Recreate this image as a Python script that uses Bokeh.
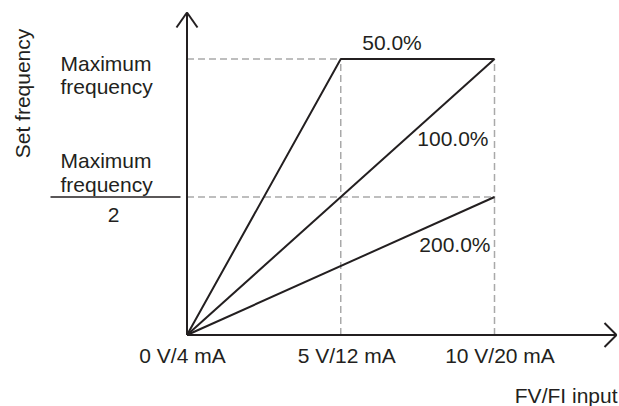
from bokeh.plotting import figure
from bokeh.models import Range1d
from bokeh.embed import file_html
from bokeh.resources import INLINE
from bokeh.core.properties import value

# ---------------- data ----------------
input_ticks = [0, 5, 10]                       # V (input)
tick_labels = ["0 V/4 mA", "5 V/12 mA", "10 V/20 mA"]
x_gain50 = [0, 5, 10]
y_gain50 = [0, 100, 100]                       # % of max frequency
x_gain100 = [0, 10]
y_gain100 = [0, 100]
x_gain200 = [0, 10]
y_gain200 = [0, 50]
gain_labels = ["50.0%", "100.0%", "200.0%"]
ref_levels = [100, 50]                         # max freq, max freq / 2
ref_inputs = [5, 10]

# ---------------- layout ----------------
W, H = 619, 406
SX = 30.75            # px per volt
SY = 2.76             # px per % of max frequency
OX, OY = 186.5, 334.5  # origin in pixels
X0 = -OX / SX
X1 = X0 + W / SX
Y1 = OY / SY
Y0 = Y1 - H / SY

INK = "#231f20"
GUIDE = "#a9a9a9"
FONT = value("Liberation Sans")
FS = value("21px")

p = figure(width=W, height=H, x_range=Range1d(X0, X1), y_range=Range1d(Y0, Y1),
           x_axis_type=None, y_axis_type=None, toolbar_location=None,
           output_backend="svg", min_border=0, title=None,
           outline_line_color=None, background_fill_color="white",
           border_fill_color="white")
p.xgrid.visible = False
p.ygrid.visible = False

# dashed guide lines
p.segment(x0=[0] * len(ref_levels), x1=[max(input_ticks)] * len(ref_levels),
          y0=ref_levels, y1=ref_levels, line_color=GUIDE, line_width=1.5,
          line_dash="7 4")
p.segment(x0=ref_inputs, x1=ref_inputs, y0=[0] * len(ref_inputs),
          y1=[max(ref_levels)] * len(ref_inputs), line_color=GUIDE,
          line_width=1.5, line_dash="7 4")

# gain lines
for xs, ys in [(x_gain50, y_gain50), (x_gain100, y_gain100), (x_gain200, y_gain200)]:
    p.line(xs, ys, line_color=INK, line_width=2)


def tx(px):
    return (px - OX) / SX


def ty(px):
    return (OY - px) / SY


# axes with open arrow heads
y_tip = ty(12)
x_tip = tx(616)
p.segment(x0=[0, 0], y0=[0, 0], x1=[0, x_tip], y1=[y_tip, 0],
          line_color=INK, line_width=2)
wy_w, wy_d = 10.5 / SX, 15 / SY
wx_w, wx_d = 12 / SY, 12 / SX
p.segment(x0=[0, 0, x_tip, x_tip], y0=[y_tip, y_tip, 0, 0],
          x1=[-wy_w, wy_w, x_tip - wx_d, x_tip - wx_d],
          y1=[y_tip - wy_d, y_tip - wy_d, wx_w, -wx_w],
          line_color=INK, line_width=2)

# fraction bar of "Maximum frequency / 2"
p.segment(x0=[tx(50)], x1=[tx(180)], y0=[ref_levels[1]], y1=[ref_levels[1]],
          line_color=INK, line_width=1.5)

txt = dict(text_font=FONT, text_font_size=FS, text_color=INK,
           text_baseline="middle")

# tick labels
tick_offsets = [-4.5, 6, 5.5]
p.text(x=[t + o / SX for t, o in zip(input_ticks, tick_offsets)],
       y=[ty(354.6)] * 3, text=tick_labels, text_align="center", **txt)

# gain labels
p.text(x=[tx(391.5)], y=[ty(41.6)], text=[gain_labels[0]], text_align="center", **txt)
p.text(x=[tx(488), tx(490)], y=[ty(137.6), ty(243.6)], text=gain_labels[1:],
       text_align="right", **txt)

# y side texts
p.text(x=[tx(60)] * 4, y=[ty(62.6), ty(85.8), ty(159.6), ty(184.2)],
       text=["Maximum", "frequency", "Maximum", "frequency"], text_align="left", **txt)
p.text(x=[tx(113)], y=[ty(214.6)], text=["2"], text_align="center", **txt)

# axis titles
p.text(x=[tx(22)], y=[ty(93)], text=["Set frequency"], angle=1.5707963,
       text_align="center", text_font=FONT, text_font_size=FS, text_color=INK,
       text_baseline="middle")
p.text(x=[tx(617)], y=[ty(394.6)], text=["FV/FI input"], text_align="right", **txt)

open("out.html", "w").write(file_html(p, INLINE))
